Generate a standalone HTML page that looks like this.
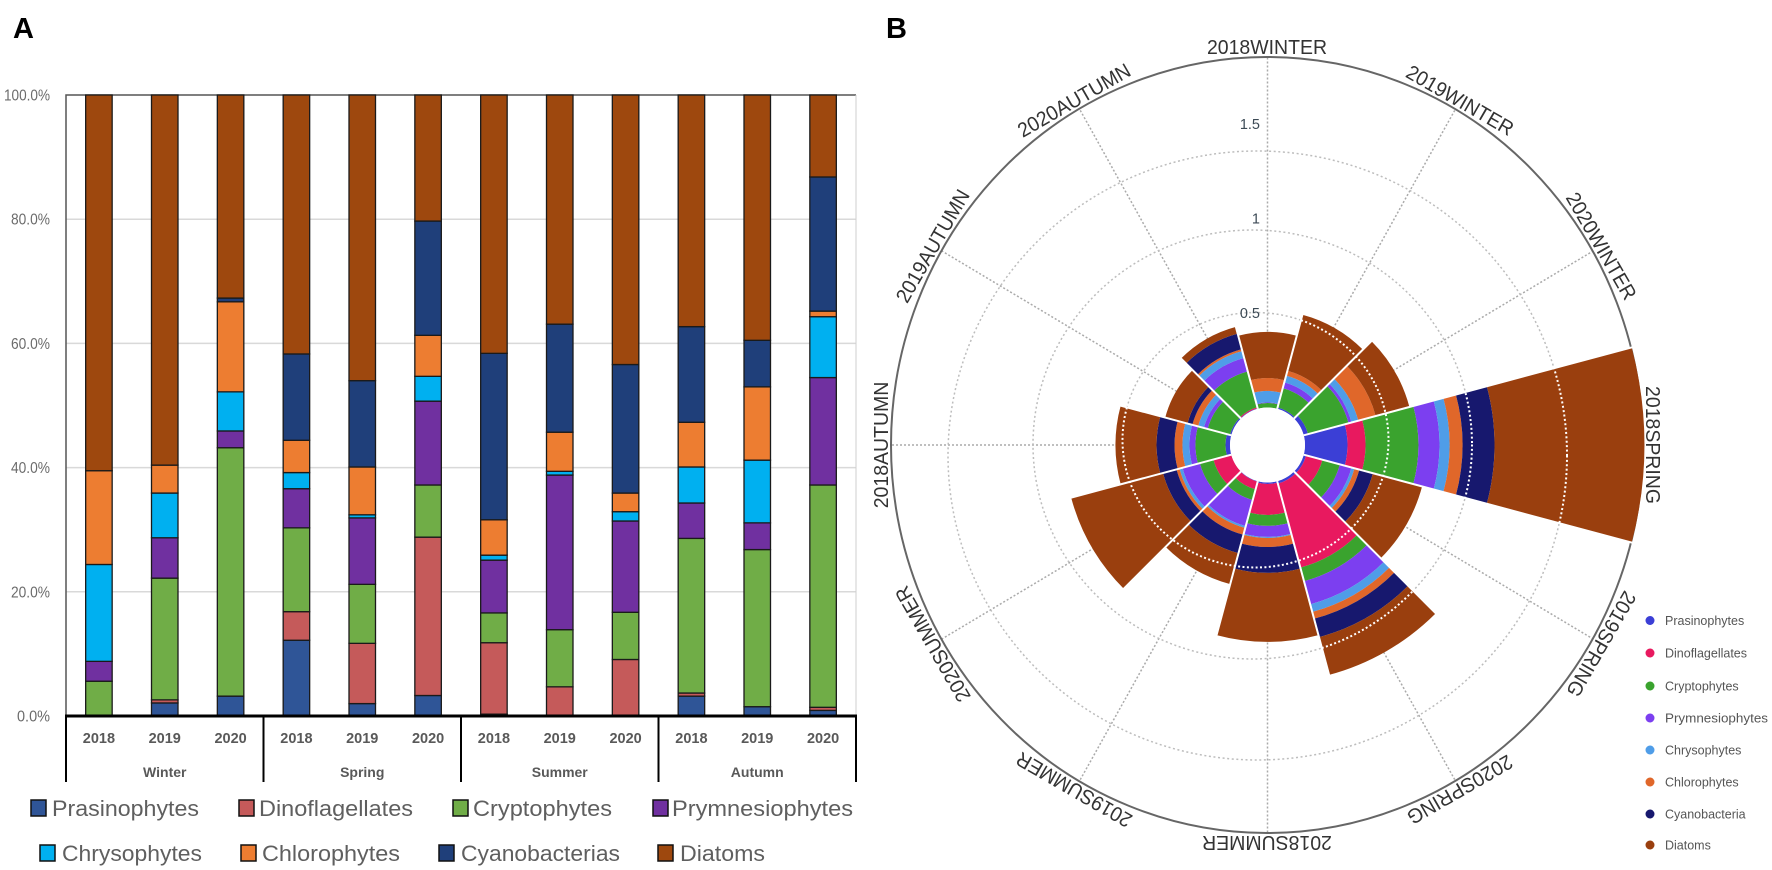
<!DOCTYPE html>
<html lang="en">
<head>
<meta charset="utf-8">
<title>Phytoplankton composition charts</title>
<style>
html,body{margin:0;padding:0;background:#fff;width:1772px;height:870px;overflow:hidden}
svg{display:block;font-family:"Liberation Sans",sans-serif}
</style>
</head>
<body>
<svg id="fig" xmlns="http://www.w3.org/2000/svg" width="1772" height="870" viewBox="0 0 1772 870">
  <text x="13" y="38" font-size="29" font-weight="700" fill="#000">A</text>
  <text x="886" y="38" font-size="29" font-weight="700" fill="#000">B</text>

  <g id="chartA"></g>

  <g font-size="22" fill="#5f5f5f" stroke-width="1.5">
    <g><rect x="31" y="800" width="15" height="16" fill="#2f5597" stroke="#111"/><text x="52" y="816" textLength="147" lengthAdjust="spacingAndGlyphs">Prasinophytes</text></g>
    <g><rect x="239" y="800" width="15" height="16" fill="#c55a5a" stroke="#111"/><text x="259" y="816" textLength="154" lengthAdjust="spacingAndGlyphs">Dinoflagellates</text></g>
    <g><rect x="453" y="800" width="15" height="16" fill="#70ad47" stroke="#111"/><text x="473" y="816" textLength="139" lengthAdjust="spacingAndGlyphs">Cryptophytes</text></g>
    <g><rect x="653" y="800" width="15" height="16" fill="#7030a0" stroke="#111"/><text x="672" y="816" textLength="181" lengthAdjust="spacingAndGlyphs">Prymnesiophytes</text></g>
    <g><rect x="40" y="845" width="15" height="16" fill="#00b0f0" stroke="#111"/><text x="62" y="861" textLength="140" lengthAdjust="spacingAndGlyphs">Chrysophytes</text></g>
    <g><rect x="241" y="845" width="15" height="16" fill="#ed7d31" stroke="#111"/><text x="262" y="861" textLength="138" lengthAdjust="spacingAndGlyphs">Chlorophytes</text></g>
    <g><rect x="439" y="845" width="15" height="16" fill="#1f3f7a" stroke="#111"/><text x="461" y="861" textLength="159" lengthAdjust="spacingAndGlyphs">Cyanobacterias</text></g>
    <g><rect x="658" y="845" width="15" height="16" fill="#9e480e" stroke="#111"/><text x="680" y="861" textLength="85" lengthAdjust="spacingAndGlyphs">Diatoms</text></g>
  </g>

  <g id="chartB"></g>

  <g font-size="12.5" fill="#555">
    <g><circle cx="1650" cy="620.5" r="4.5" fill="#3b3fd6"/><text x="1665" y="625">Prasinophytes</text></g>
    <g><circle cx="1650" cy="653" r="4.5" fill="#e8195f"/><text x="1665" y="657.5">Dinoflagellates</text></g>
    <g><circle cx="1650" cy="686" r="4.5" fill="#3aa32e"/><text x="1665" y="690.5">Cryptophytes</text></g>
    <g><circle cx="1650" cy="718" r="4.5" fill="#7c3ff0"/><text x="1665" y="722.5" textLength="103" lengthAdjust="spacingAndGlyphs">Prymnesiophytes</text></g>
    <g><circle cx="1650" cy="750" r="4.5" fill="#4f9de8"/><text x="1665" y="754.5">Chrysophytes</text></g>
    <g><circle cx="1650" cy="782" r="4.5" fill="#e0672a"/><text x="1665" y="786.5">Chlorophytes</text></g>
    <g><circle cx="1650" cy="814" r="4.5" fill="#17186e"/><text x="1665" y="818.5">Cyanobacteria</text></g>
    <g><circle cx="1650" cy="845" r="4.5" fill="#9a3f0e"/><text x="1665" y="849.5">Diatoms</text></g>
  </g>
</svg>

<script>
// ---------- Panel A data (percent) ----------
const barSeasons = ['Winter','Spring','Summer','Autumn'];
const barYears = ['2018','2019','2020'];
const barTicks = [0,20,40,60,80,100];
const barSeriesNames = ['Prasinophytes','Dinoflagellates','Cryptophytes','Prymnesiophytes','Chrysophytes','Chlorophytes','Cyanobacterias','Diatoms'];
const barPrasinophytes = [0,2.1,3.2,12.2,2.0,3.3,0.3,0,0,3.2,1.5,0.9];
const barDinoflagellates = [0,0.5,0,4.6,9.7,25.5,11.5,4.7,9.1,0.5,0,0.5];
const barCryptophytes = [5.6,19.6,40,13.5,9.5,8.4,4.8,9.2,7.6,24.9,25.3,35.8];
const barPrymnesiophytes = [3.2,6.5,2.7,6.3,10.7,13.5,8.5,24.9,14.7,5.7,4.3,17.3];
const barChrysophytes = [15.6,7.2,6.3,2.6,0.5,4,0.8,0.6,1.5,5.8,10.1,9.8];
const barChlorophytes = [15.1,4.5,14.5,5.2,7.7,6.6,5.7,6.3,3,7.2,11.8,0.9];
const barCyanobacterias = [0,0,0.6,13.9,13.9,18.4,26.8,17.4,20.7,15.4,7.5,21.6];
const barDiatoms = [60.5,59.6,32.7,41.7,46,20.3,41.6,36.9,43.4,37.3,39.5,13.2];

// ---------- Panel B data (radial value) ----------
const polarCategories = ['2018WINTER','2019WINTER','2020WINTER','2018SPRING','2019SPRING','2020SPRING','2018SUMMER','2019SUMMER','2020SUMMER','2018AUTUMN','2019AUTUMN','2020AUTUMN'];
const polarTicks = [0.5,1,1.5];
const polarTickLabels = ['0.5','1','1.5'];
const polarSeriesNames = ['prasinophytes','dinoflagellates','cryptophytes','prymnesiophytes','chrysophytes','chlorophytes','cyanobacteria','diatoms'];
const polarPrasinophytes = [0,0.008,0.025,0.236,0.014,0.014,0.008,0.003,0,0.025,0.008,0.003];
const polarDinoflagellates = [0,0,0,0.100,0.094,0.483,0.172,0.044,0.103,0,0,0.006];
const polarCryptophytes = [0.025,0.111,0.233,0.294,0.100,0.078,0.061,0.061,0.078,0.167,0.128,0.206];
const polarPrymnesiophytes = [0.003,0.033,0.017,0.117,0.067,0.133,0.061,0.150,0.100,0.033,0.022,0.078];
const polarChrysophytes = [0.064,0.039,0.039,0.056,0.017,0.044,0.006,0.011,0.017,0.039,0.033,0.039];
const polarChlorophytes = [0.072,0.028,0.100,0.072,0.028,0.039,0.050,0.039,0.017,0.044,0.033,0.011];
const polarCyanobacteria = [0,0,0,0.178,0.078,0.106,0.144,0.106,0.078,0.100,0.028,0.089];
const polarDiatoms = [0.256,0.322,0.194,0.833,0.283,0.217,0.383,0.178,0.528,0.228,0.128,0.039];

const NS = 'http://www.w3.org/2000/svg';
function mk(parent, tag, attrs, txt) {
  const e = document.createElementNS(NS, tag);
  for (const k in attrs) e.setAttribute(k, attrs[k]);
  if (txt !== undefined) e.textContent = txt;
  parent.appendChild(e);
  return e;
}

// ---------- Panel A ----------
(function () {
  const g = document.getElementById('chartA');
  const series = [barPrasinophytes,barDinoflagellates,barCryptophytes,barPrymnesiophytes,barChrysophytes,barChlorophytes,barCyanobacterias,barDiatoms];
  const colors = ['#2f5597','#c55a5a','#70ad47','#7030a0','#00b0f0','#ed7d31','#1f3f7a','#9e480e'];
  const left = 66, right = 856, top = 95, bottom = 716;
  const n = barSeasons.length * barYears.length;
  const step = (right - left) / n;
  const barW = 26.5;
  const yS = v => bottom - (bottom - top) * v / 100;
  const xS = i => left + step * (i + 0.5);

  barTicks.forEach(t => {
    if (t > 0 && t < 100) {
      const l = mk(g, 'line', {x1:left, x2:right, y1:yS(t), y2:yS(t), stroke:'#d9d9d9', 'stroke-width':1.5});
      
      
    }
    const lab = mk(g, 'text', {x:50, y:yS(t)+5.5, 'text-anchor':'end', 'font-size':16, fill:'#6b6b6b', textLength:t===100?46:(t===0?33:39), lengthAdjust:'spacingAndGlyphs'}, t.toFixed(1) + '%');
    
    
  });

  const frame = mk(g, 'path', {d:`M${left} ${bottom}V${top}H${right}`, fill:'none', stroke:'#555', 'stroke-width':1.5});
  
  
  const rb = mk(g, 'line', {x1:right, x2:right, y1:top, y2:bottom, stroke:'#cfcfcf', 'stroke-width':1});
  
  

  for (let i = 0; i < n; i++) {
    let acc = 0;
    series.forEach((s, k) => {
      const v = s[i];
      if (v > 0) {
        const y1 = yS(acc + v), y0 = yS(acc);
        const r = mk(g, 'rect', {x:xS(i)-barW/2, y:y1, width:barW, height:y0-y1, fill:colors[k], stroke:'#1a1a1a', 'stroke-width':1.3});
        
        
      }
      acc += v;
    });
    const yl = mk(g, 'text', {x:xS(i), y:743, 'text-anchor':'middle', 'font-size':14.5, 'font-weight':700, fill:'#595959'}, barYears[i % barYears.length]);
    
    
  }

  const ax = mk(g, 'line', {x1:left-1, x2:right+1, y1:bottom, y2:bottom, stroke:'#000', 'stroke-width':3});
  
  

  for (let s = 0; s <= barSeasons.length; s++) {
    const x = left + s * step * barYears.length;
    const d = mk(g, 'line', {x1:x, x2:x, y1:bottom, y2:782, stroke:'#000', 'stroke-width':2});
    
    
    if (s < barSeasons.length) {
      const sl = mk(g, 'text', {x:x + step*barYears.length/2, y:777, 'text-anchor':'middle', 'font-size':14, 'font-weight':700, fill:'#595959'}, barSeasons[s]);
      
      
    }
  }
})();

// ---------- Panel B ----------
(function () {
  const g = document.getElementById('chartB');
  const series = [polarPrasinophytes,polarDinoflagellates,polarCryptophytes,polarPrymnesiophytes,polarChrysophytes,polarChlorophytes,polarCyanobacteria,polarDiatoms];
  const colors = ['#3b3fd6','#e8195f','#3aa32e','#7c3ff0','#4f9de8','#e0672a','#17186e','#9a3f0e'];
  const cx = 1267.5, cy = 445, hole = 37.5, k = 180;
  const outerRx = 376, outerRy = 388;
  const rS = v => hole + k * v;
  const n = polarCategories.length;
  const stepDeg = 360 / n;
  const rad = d => d * Math.PI / 180;
  const pt = (a, r) => [cx + r * Math.sin(rad(a)), cy - r * Math.cos(rad(a))];
  // Hand-stitched rings of the original are not perfectly concentric
  const ringShift = [{dx:-12,dy:-5,ex:5.5,ey:0},{dx:-15,dy:-0.5,ex:2,ey:-3},{dx:-10,dy:10.5,ex:2,ey:-3}];
  function sector(a0, a1, r0, r1) {
    const p0 = pt(a0, r1), p1 = pt(a1, r1), p2 = pt(a1, r0), p3 = pt(a0, r0);
    return `M${p0[0]} ${p0[1]}A${r1} ${r1} 0 0 1 ${p1[0]} ${p1[1]}L${p2[0]} ${p2[1]}A${r0} ${r0} 0 0 0 ${p3[0]} ${p3[1]}Z`;
  }

  // radial grid
  for (let i = 0; i < n; i++) {
    const a = i * stepDeg;
    const e = [cx + outerRx * Math.sin(rad(a)), cy - outerRy * Math.cos(rad(a))];
    const c = pt(a, hole);
    const l = mk(g, 'line', {x1:c[0], y1:c[1], x2:e[0], y2:e[1], stroke:'#aaa', 'stroke-width':1.5, 'stroke-dasharray':'2 2'});
    
    
  }
  // ring grid
  polarTicks.forEach((t, i) => {
    const s = ringShift[i];
    const c = mk(g, 'ellipse', {cx:cx+s.dx, cy:cy+s.dy, rx:rS(t)+s.ex, ry:rS(t)+s.ey, fill:'none', stroke:'#bdbdbd', 'stroke-width':1.5, 'stroke-dasharray':'2 2.6'});
    
    
  });

  // outer border
  const ob = mk(g, 'ellipse', {cx:1267, cy:445, rx:outerRx, ry:outerRy, fill:'none', stroke:'#666', 'stroke-width':2});
  
  

  // sectors
  const totals = [];
  let clipD = '';
  for (let i = 0; i < n; i++) {
    const a0 = i * stepDeg - stepDeg / 2, a1 = a0 + stepDeg;
    let acc = 0;
    series.forEach((s, m) => {
      const v = s[i];
      if (v > 0) {
        const p = mk(g, 'path', {d:sector(a0, a1, rS(acc), rS(acc + v)), fill:colors[m]});
        
        
      }
      acc += v;
    });
    totals.push(acc);
    clipD += sector(a0, a1, hole, rS(acc));
  }

  // white dotted rings shown only over the sectors
  const defs = mk(g, 'defs', {});
  const clip = mk(defs, 'clipPath', {id:'sectorClip'});
  mk(clip, 'path', {d:clipD});
  polarTicks.forEach((t, i) => {
    const s = ringShift[i];
    const c = mk(g, 'ellipse', {cx:cx+s.dx, cy:cy+s.dy, rx:rS(t)+s.ex, ry:rS(t)+s.ey, fill:'none', stroke:'#fff', 'stroke-width':2, 'stroke-dasharray':'2 2.4', 'clip-path':'url(#sectorClip)'});
    
    
  });

  // white separators between sectors
  for (let i = 0; i < n; i++) {
    const a = i * stepDeg - stepDeg / 2;
    const rMax = rS(Math.max(totals[i], totals[(i + n - 1) % n]));
    const p0 = pt(a, hole), p1 = pt(a, rMax + 1);
    const l = mk(g, 'line', {x1:p0[0], y1:p0[1], x2:p1[0], y2:p1[1], stroke:'#fff', 'stroke-width':2});
    
    
  }

  // centre hole
  const h = mk(g, 'circle', {cx:cx, cy:cy, r:hole, fill:'#fff'});
  
  

  // radial tick labels
  polarTicks.forEach((t, i) => {
    const lab = mk(g, 'text', {x:1260, y:cy - (38 + 189 * t) + 5.5, 'text-anchor':'end', 'font-size':14.5, fill:'#3c4a55'}, polarTickLabels[i]);
    
    
  });

  // category labels
  polarCategories.forEach((name, i) => {
    const a = i * stepDeg;
    const x = 1267 + (outerRx + 3) * Math.sin(rad(a));
    const y = cy - (outerRy + 3) * Math.cos(rad(a));
    const t = mk(g, 'text', {transform:`translate(${x} ${y}) rotate(${a}) scale(0.95 1)`, 'text-anchor':'middle', 'font-size':20.5, fill:'#333'}, name);
    
    
  });
})();
</script>
</body>
</html>
